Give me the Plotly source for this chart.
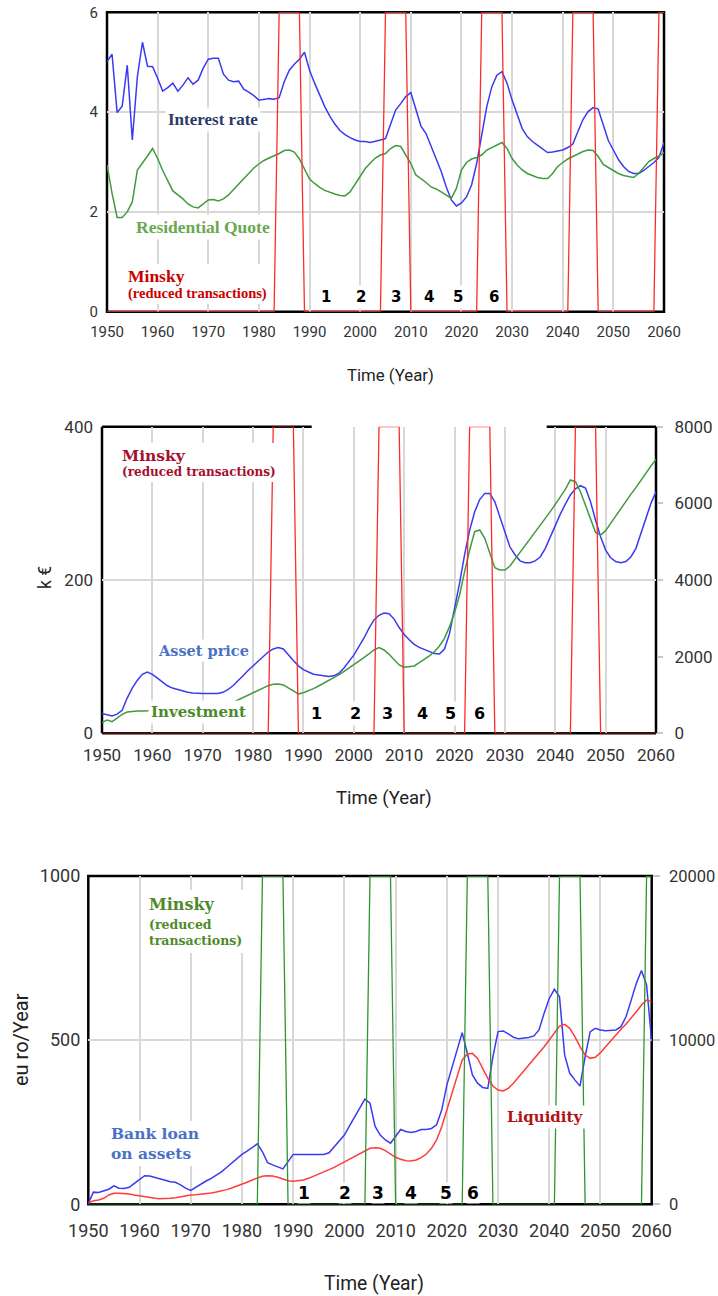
import plotly.graph_objects as go

W, H = 718, 1296

years = list(range(1950, 2061))

interest_rate = [
    5.01, 5.16, 3.99, 4.12, 4.94, 3.44, 4.71, 5.40, 4.92, 4.91,
    4.68, 4.42, 4.49, 4.58, 4.42, 4.54, 4.69, 4.56, 4.64, 4.88,
    5.06, 5.08, 5.08, 4.76, 4.64, 4.61, 4.62, 4.46, 4.40, 4.33,
    4.24, 4.25, 4.27, 4.26, 4.29, 4.61, 4.84, 4.96, 5.06, 5.20,
    4.84, 4.58, 4.34, 4.11, 3.92, 3.76, 3.63, 3.55, 3.49, 3.44,
    3.41, 3.41, 3.39, 3.41, 3.44, 3.47, 3.74, 4.04, 4.17, 4.31,
    4.39, 4.04, 3.72, 3.57, 3.31, 3.04, 2.81, 2.50, 2.24, 2.12,
    2.18, 2.30, 2.54, 2.97, 3.57, 4.11, 4.51, 4.74, 4.81, 4.58,
    4.24, 3.94, 3.67, 3.51, 3.41, 3.34, 3.27, 3.19, 3.20, 3.22,
    3.24, 3.29, 3.36, 3.61, 3.85, 4.01, 4.09, 4.06, 3.74, 3.43,
    3.24, 3.05, 2.91, 2.81, 2.77, 2.77, 2.83, 2.91, 2.99, 3.09, 3.39,
]

residential_quote = [
    2.94, 2.37, 1.89, 1.89, 2.00, 2.20, 2.84, 2.97, 3.12, 3.27,
    3.07, 2.83, 2.61, 2.42, 2.34, 2.26, 2.16, 2.10, 2.08, 2.16,
    2.24, 2.25, 2.22, 2.26, 2.34, 2.45, 2.56, 2.67, 2.79, 2.88,
    2.96, 3.03, 3.08, 3.12, 3.17, 3.23, 3.24, 3.20, 3.06, 2.86,
    2.66, 2.57, 2.49, 2.43, 2.39, 2.36, 2.33, 2.32, 2.40, 2.55,
    2.72, 2.87, 2.98, 3.08, 3.14, 3.17, 3.27, 3.33, 3.31, 3.14,
    2.97, 2.74, 2.67, 2.59, 2.50, 2.46, 2.40, 2.34, 2.27, 2.47,
    2.84, 2.99, 3.06, 3.09, 3.14, 3.24, 3.29, 3.34, 3.39, 3.27,
    3.07, 2.94, 2.84, 2.77, 2.73, 2.69, 2.67, 2.67, 2.77, 2.91,
    2.99, 3.06, 3.11, 3.16, 3.21, 3.24, 3.23, 3.11, 2.95, 2.89,
    2.83, 2.77, 2.73, 2.71, 2.69, 2.77, 2.89, 3.01, 3.07, 3.12, 3.19,
]

asset_price = [
    26, 24, 22.6, 25, 30, 46, 59, 69, 77, 80,
    77, 72, 67, 62, 59, 57, 55, 53.5, 52.6, 52,
    52, 52, 52, 52, 53.5, 57, 62, 68, 75, 82,
    88, 95, 101, 106, 110, 112, 110, 102, 95, 88,
    83, 80, 77, 76, 75, 74, 75, 78, 85, 93,
    102, 113, 124, 137, 148, 154, 157, 156, 149, 138,
    129, 122, 116, 112, 109, 106.5, 104, 103.5, 110, 130,
    161, 196, 233, 265, 289, 305, 313, 313, 302, 283,
    261, 243, 233, 225, 222.6, 222.6, 225, 230, 241, 256,
    272, 286, 299, 311, 319, 323, 320, 302, 278, 256.5,
    239, 229, 224, 222.6, 224, 230, 241, 261, 283, 300, 315,
]

investment = [
    278, 348, 304, 409, 496, 557, 574, 580, 585, 585,
    590, 595, 600, 610, 620, 630, 640, 650, 660, 670,
    680, 690, 700, 720, 740, 770, 810, 870, 930, 1000,
    1070, 1130, 1191, 1243, 1278, 1287, 1261, 1191, 1100, 1030,
    1060, 1104, 1165, 1235, 1304, 1374, 1452, 1522, 1609, 1696,
    1783, 1870, 1974, 2070, 2174, 2235, 2174, 2061, 1930, 1783,
    1722, 1739, 1757, 1843, 1930, 2017, 2130, 2278, 2478, 2783,
    3148, 3609, 4217, 4783, 5261, 5304, 5087, 4696, 4322, 4261,
    4261, 4365, 4539, 4722, 4913, 5087, 5261, 5435, 5609, 5783,
    5974, 6174, 6365, 6609, 6565, 6304, 5957, 5565, 5243, 5174,
    5287, 5478, 5670, 5870, 6043, 6235, 6409, 6609, 6783, 6974, 7148,
]

bank_loan = [
    3, 37, 36, 41, 46, 56, 49, 48, 52, 64,
    76, 87, 86, 81, 76, 73, 69, 67, 59, 49,
    42, 52, 62, 71, 79, 89, 99, 112, 125, 139,
    152, 162, 174, 184, 160, 127, 120, 115, 108, 130,
    152, 152, 152, 150, 150, 150, 152, 157, 174, 191,
    211, 239, 267, 294, 320, 308, 237, 211, 196, 186,
    206, 228, 222, 219, 222, 228, 228, 231, 242, 287,
    363, 419, 475, 523, 460, 394, 369, 356, 353, 450,
    526, 528, 519, 509, 504, 506, 508, 513, 531, 582,
    627, 655, 632, 455, 399, 379, 360, 450, 526, 536,
    531, 529, 529, 531, 541, 572, 622, 673, 712, 668, 495,
]

liquidity = [
    61, 223, 264, 365, 568, 670, 670, 670, 629, 568,
    508, 447, 406, 365, 345, 345, 365, 406, 467, 528,
    568, 589, 609, 650, 690, 751, 812, 893, 995, 1096,
    1218, 1340, 1482, 1604, 1705, 1746, 1726, 1644, 1543, 1441,
    1401, 1421, 1482, 1583, 1705, 1827, 1969, 2111, 2253, 2416,
    2578, 2761, 2923, 3106, 3268, 3410, 3451, 3410, 3268, 3065,
    2862, 2741, 2659, 2639, 2700, 2842, 3065, 3410, 3918, 4730,
    5745, 6760, 7876, 8790, 9155, 9196, 8891, 8282, 7673, 7207,
    6963, 6902, 7064, 7369, 7734, 8120, 8485, 8851, 9237, 9602,
    10008, 10414, 10861, 10962, 10718, 10211, 9602, 9094, 8891, 8952,
    9237, 9602, 9967, 10312, 10658, 10982, 11327, 11733, 12139, 12444, 12342,
]

# Minsky (reduced transactions) active periods, first and last year at full level
minsky_periods_top = [(1984, 1988), (2005, 2009), (2024, 2028), (2042, 2046), (2059, 2060)]
minsky_periods_mid = [(1984, 1988), (2005, 2009), (2023, 2027), (2044, 2048)]
minsky_periods_bottom = [(1984, 1988), (2005, 2009), (2024, 2028), (2042, 2046), (2059, 2060)]

phase_labels = ["1", "2", "3", "4", "5", "6"]
phase_years_top = [1993.2, 2000.1, 2007.1, 2013.6, 2019.4, 2026.5]
phase_years_mid = [1992.6, 2000.4, 2006.7, 2013.6, 2019.1, 2024.9]
phase_years_bottom = [1992.2, 2000.1, 2006.6, 2013.1, 2019.8, 2025.2]

x_ticks = list(range(1950, 2061, 10))


def minsky_flags(periods):
    return [1 if any(a <= y <= b for a, b in periods) else 0 for y in years]


def px(x):
    return x / W


def py(y):
    return 1 - y / H


TICKFONT = "Roboto, sans-serif"
TICKCOLOR = "#333333"
GRID = "#d8d8d8"

fig = go.Figure()

# Panel 1
fig.add_trace(go.Scatter(x=years, y=interest_rate, mode="lines", xaxis="x", yaxis="y",
                         line=dict(color="#3a3af2", width=1.5)))
fig.add_trace(go.Scatter(x=years, y=residential_quote, mode="lines", xaxis="x", yaxis="y",
                         line=dict(color="#3f9b3f", width=1.5)))
fig.add_trace(go.Scatter(x=years, y=minsky_flags(minsky_periods_top), mode="lines", xaxis="x", yaxis="y6",
                         line=dict(color="#ff2b2b", width=1.3)))

# Panel 2
fig.add_trace(go.Scatter(x=years, y=asset_price, mode="lines", xaxis="x2", yaxis="y2",
                         line=dict(color="#3a3af2", width=1.5)))
fig.add_trace(go.Scatter(x=years, y=investment, mode="lines", xaxis="x2", yaxis="y3",
                         line=dict(color="#3f9b3f", width=1.5)))
fig.add_trace(go.Scatter(x=years, y=minsky_flags(minsky_periods_mid), mode="lines", xaxis="x2", yaxis="y7",
                         line=dict(color="#ff2b2b", width=1.3)))

# Panel 3
fig.add_trace(go.Scatter(x=years, y=bank_loan, mode="lines", xaxis="x3", yaxis="y4",
                         line=dict(color="#3a3af2", width=1.5)))
fig.add_trace(go.Scatter(x=years, y=liquidity, mode="lines", xaxis="x3", yaxis="y5",
                         line=dict(color="#ff3b3b", width=1.5)))
fig.add_trace(go.Scatter(x=years, y=minsky_flags(minsky_periods_bottom), mode="lines", xaxis="x3", yaxis="y8",
                         line=dict(color="#2f962f", width=1.3)))


def xaxis(domain, anchor, size, standoff):
    return dict(domain=domain, anchor=anchor, range=[1950, 2060], tickvals=x_ticks,
                showgrid=True, gridcolor=GRID, gridwidth=1.5, zeroline=False, showline=False,
                ticks="", ticklabelstandoff=standoff, tickangle=0, automargin=False,
                tickfont=dict(family=TICKFONT, size=size, color=TICKCOLOR), fixedrange=True)


def yaxis(domain, anchor, rng, vals, size, standoff):
    return dict(domain=domain, anchor=anchor, range=rng, tickvals=vals, tickformat="d",
                showgrid=True, gridcolor=GRID, gridwidth=2, zeroline=False, showline=False,
                ticks="", ticklabelstandoff=standoff, automargin=False,
                tickfont=dict(family=TICKFONT, size=size, color=TICKCOLOR), fixedrange=True)


def yright(overlay, anchor, rng, vals, size, standoff, ticklen):
    return dict(overlaying=overlay, anchor=anchor, side="right", range=rng, tickvals=vals,
                tickformat="d", showgrid=False, zeroline=False, showline=False,
                ticks="outside", ticklen=ticklen, tickcolor="#c8c8c8", tickwidth=1.5,
                ticklabelstandoff=standoff, automargin=False,
                tickfont=dict(family=TICKFONT, size=size, color=TICKCOLOR), fixedrange=True)


def hidden(overlay, anchor):
    return dict(overlaying=overlay, anchor=anchor, range=[0, 1], visible=False,
                automargin=False, fixedrange=True)


D1x, D1y = [px(107), px(664)], [py(311.7), py(12.3)]
D2x, D2y = [px(102), px(656)], [py(733.3), py(426.7)]
D3x, D3y = [px(88.3), px(651.7)], [py(1204.3), py(876)]

fig.update_layout(
    width=W, height=H, margin=dict(l=0, r=0, t=0, b=0, autoexpand=False),
    paper_bgcolor="white", plot_bgcolor="white", showlegend=False,
    xaxis=xaxis(D1x, "y", 15, 9),
    yaxis=yaxis(D1y, "x", [0, 6], [0, 2, 4, 6], 15, 8),
    yaxis6=hidden("y", "x"),
    xaxis2=xaxis(D2x, "y2", 17, 10),
    yaxis2=yaxis(D2y, "x2", [0, 400], [0, 200, 400], 17, 8),
    yaxis3=yright("y2", "x2", [0, 8000], [0, 2000, 4000, 6000, 8000], 17, 8, 6),
    yaxis7=hidden("y2", "x2"),
    xaxis3=xaxis(D3x, "y4", 18, 14),
    yaxis4=yaxis(D3y, "x3", [0, 1000], [0, 500, 1000], 18, 7),
    yaxis5=yright("y4", "x3", [0, 20000], [0, 10000, 20000], 16.5, 6, 7),
    yaxis8=hidden("y4", "x3"),
)

# Frames
shapes = []
FRAME = dict(color="black", width=2.5)
for (dx, dy) in [(D1x, D1y), (D3x, D3y)]:
    shapes.append(dict(type="rect", xref="paper", yref="paper", x0=dx[0], x1=dx[1], y0=dy[0], y1=dy[1],
                       line=FRAME, fillcolor="rgba(0,0,0,0)", layer="between"))
# panel 2 frame: top edge partially missing in the original
shapes += [
    dict(type="line", xref="paper", yref="paper", x0=D2x[0], x1=D2x[0], y0=D2y[0], y1=D2y[1], line=FRAME, layer="between"),
    dict(type="line", xref="paper", yref="paper", x0=D2x[1], x1=D2x[1], y0=D2y[0], y1=D2y[1], line=FRAME, layer="between"),
    dict(type="line", xref="paper", yref="paper", x0=D2x[0], x1=D2x[1], y0=D2y[0], y1=D2y[0], line=FRAME, layer="between"),
    dict(type="line", xref="paper", yref="paper", x0=D2x[0], x1=px(311.7), y0=D2y[1], y1=D2y[1], line=FRAME, layer="between"),
    dict(type="line", xref="paper", yref="paper", x0=px(546.7), x1=D2x[1], y0=D2y[1], y1=D2y[1], line=FRAME, layer="between"),
]


def white_box(x0, x1, y0, y1):
    shapes.append(dict(type="rect", xref="paper", yref="paper", x0=px(x0), x1=px(x1), y0=py(y1), y1=py(y0),
                       line=dict(width=0), fillcolor="white", layer="above"))


# white label backgrounds for multi-line labels
white_box(121, 270, 264, 304)     # panel 1 Minsky block
white_box(115, 281, 443, 482)     # panel 2 Minsky block
white_box(141, 252, 890, 953)     # panel 3 Minsky block
white_box(104, 206, 1121, 1166)   # panel 3 bank loan block
fig.update_layout(shapes=shapes)

ann = []


def label(text, x, y, size, color, family, xanchor="center", align="center", bold=True, angle=0, bg="white"):
    ann.append(dict(text=text, x=px(x), y=py(y), xref="paper", yref="paper", xanchor=xanchor,
                    yanchor="middle", align=align, showarrow=False, textangle=angle,
                    font=dict(family=family, size=size, color=color, weight="bold" if bold else "normal"),
                    bgcolor=bg, borderpad=2))


SERIF1 = "Liberation Serif, Times New Roman, serif"
SERIF2 = "DejaVu Serif, serif"
CLEAR = "rgba(0,0,0,0)"

# Panel 1 labels
label("Interest rate", 213, 120, 17, "#2b3a66", SERIF1)
label("Residential Quote", 203, 227, 17.5, "#6aa84f", SERIF1)
label("Minsky", 125, 276, 17.5, "#c80000", SERIF1, xanchor="left", bg=CLEAR)
label("(reduced transactions)", 125, 293, 14.5, "#c80000", SERIF1, xanchor="left", bg=CLEAR)

# Panel 2 labels
label("Minsky", 119, 455, 15.5, "#a50f2d", SERIF2, xanchor="left", bg=CLEAR)
label("(reduced transactions)", 119, 472.5, 12, "#a50f2d", SERIF2, xanchor="left", bg=CLEAR)
label("Asset price", 203, 650, 14.5, "#4a72c4", SERIF2)
label("Investment", 198, 712.3, 15, "#4a8a2a", SERIF2)

# Panel 3 labels
label("Minsky", 146, 904.3, 16, "#4e8a2a", SERIF2, xanchor="left", bg=CLEAR)
label("(reduced<br>transactions)", 146, 932.5, 12.5, "#4e8a2a", SERIF2, xanchor="left", align="left", bg=CLEAR)
label("Bank loan<br>on assets", 108, 1143.7, 15.5, "#4a72c4", SERIF2, xanchor="left", align="left", bg=CLEAR)
label("Liquidity", 545, 1116.7, 15, "#b3121a", SERIF2)

# axis titles
label("Time (Year)", 390, 375, 16.8, "#222222", TICKFONT, bold=False, bg=CLEAR)
label("Time (Year)", 384, 798, 18.5, "#222222", TICKFONT, bold=False, bg=CLEAR)
label("Time (Year)", 374, 1283, 19.3, "#222222", TICKFONT, bold=False, bg=CLEAR)
label("k €", 45, 578, 17.5, "#222222", TICKFONT, bold=False, angle=-90, bg=CLEAR)
label("eu ro/Year", 21, 1040, 20, "#222222", TICKFONT, bold=False, angle=-90, bg=CLEAR)

# phase numbers
for xs, yref, xref, yv, size, pad in [(phase_years_top, "y", "x", 0.29, 15, 2),
                                       (phase_years_mid, "y2", "x2", 26, 16, 2),
                                       (phase_years_bottom, "y4", "x3", 33.5, 17, 0)]:
    for t, xv in zip(phase_labels, xs):
        ann.append(dict(text=t, x=xv, y=yv, xref=xref, yref=yref, showarrow=False,
                        xanchor="center", yanchor="middle",
                        font=dict(family="DejaVu Sans, sans-serif", size=size, color="black", weight="bold"),
                        bgcolor="white", borderpad=pad))

fig.update_layout(annotations=ann)

fig.write_html("out.html", config={"displayModeBar": False},
               post_script="document.body.style.margin='0';")
